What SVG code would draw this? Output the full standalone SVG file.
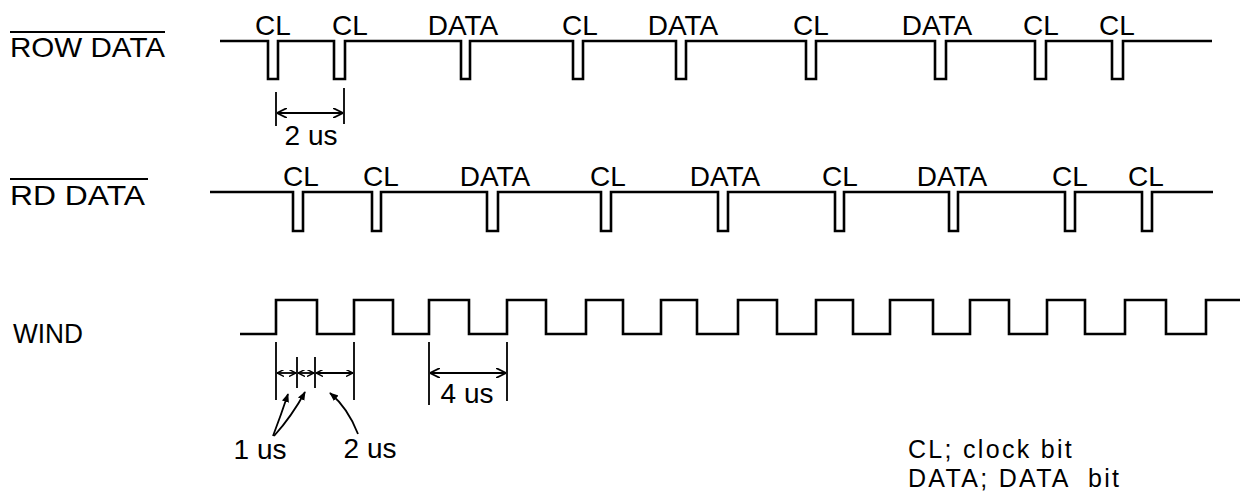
<svg xmlns="http://www.w3.org/2000/svg" width="1243" height="500" viewBox="0 0 1243 500">
<style>
.wave{fill:none;stroke:#000;stroke-width:2.6;stroke-linejoin:miter}
.dim{fill:none;stroke:#000;stroke-width:1.8}
.ext{fill:none;stroke:#000;stroke-width:1.8}
.ov{stroke:#000;stroke-width:1.8}
text{font-family:"Liberation Sans",Arial,sans-serif;fill:#000}
.lbl{font-size:28px;text-anchor:middle}
.sig{font-size:28px}
.leg{font-size:25px;letter-spacing:2.3px}
</style>
<defs>
<marker id="ah" viewBox="0 0 10 10" refX="10" refY="5" markerWidth="10" markerHeight="10" markerUnits="userSpaceOnUse" orient="auto-start-reverse">
<path d="M0,0 L10,5 L0,10" fill="none" stroke="#000" stroke-width="1.8"/>
</marker>
<marker id="ahs" viewBox="0 0 10 10" refX="10" refY="5" markerWidth="7" markerHeight="7" markerUnits="userSpaceOnUse" orient="auto-start-reverse">
<path d="M0,0 L10,5 L0,10" fill="none" stroke="#000" stroke-width="2"/>
</marker>
<marker id="ahf" viewBox="0 0 10 10" refX="9" refY="5" markerWidth="9" markerHeight="9" markerUnits="userSpaceOnUse" orient="auto">
<path d="M0,1 L10,5 L0,9 z" fill="#000"/>
</marker>
</defs>

<g id="row-data">
<line class="ov" x1="10" y1="32" x2="165" y2="32"/>
<text class="sig" x="10" y="57" textLength="155" lengthAdjust="spacingAndGlyphs">ROW DATA</text>
<path class="wave" d="M220 41 H268 V79 H278 V41 H334 V79 H345 V41 H461 V79 H470 V41 H573 V79 H583 V41 H676 V79 H686 V41 H806 V79 H816 V41 H935 V79 H946 V41 H1035 V79 H1046 V41 H1112 V79 H1123 V41 H1212"/>
<text class="lbl" x="273" y="35">CL</text>
<text class="lbl" x="350" y="35">CL</text>
<text class="lbl" x="463" y="35">DATA</text>
<text class="lbl" x="580" y="35">CL</text>
<text class="lbl" x="683" y="35">DATA</text>
<text class="lbl" x="811" y="35">CL</text>
<text class="lbl" x="937" y="35">DATA</text>
<text class="lbl" x="1041" y="35">CL</text>
<text class="lbl" x="1117" y="35">CL</text>
</g>

<g id="rd-data">
<line class="ov" x1="10" y1="179" x2="148" y2="179"/>
<text class="sig" x="10" y="205" textLength="135" lengthAdjust="spacingAndGlyphs">RD DATA</text>
<path class="wave" d="M210 192 H293 V231 H303 V192 H372 V231 H381 V192 H487 V231 H498 V192 H601 V231 H611 V192 H718 V231 H728 V192 H835 V231 H844 V192 H949 V231 H958 V192 H1065 V231 H1075 V192 H1142 V231 H1152 V192 H1213"/>
<text class="lbl" x="301" y="186">CL</text>
<text class="lbl" x="381" y="186">CL</text>
<text class="lbl" x="495" y="186">DATA</text>
<text class="lbl" x="608" y="186">CL</text>
<text class="lbl" x="725" y="186">DATA</text>
<text class="lbl" x="840" y="186">CL</text>
<text class="lbl" x="952" y="186">DATA</text>
<text class="lbl" x="1070" y="186">CL</text>
<text class="lbl" x="1146" y="186">CL</text>
</g>

<g id="wind">
<text class="sig" x="13" y="343" textLength="70" lengthAdjust="spacingAndGlyphs">WIND</text>
<path class="wave" d="M240 334 H276 V300 H317 V334 H354 V300 H393 V334 H429 V300 H469 V334 H507 V300 H546 V334 H586 V300 H623 V334 H661 V300 H697 V334 H738 V300 H777 V334 H816 V300 H853 V334 H890 V300 H933 V334 H970 V300 H1009 V334 H1047 V300 H1085 V334 H1125 V300 H1166 V334 H1206 V300 H1240"/>
</g>

<g id="dimensions">
<line class="ext" x1="276" y1="92" x2="276" y2="126"/>
<line class="ext" x1="344" y1="88" x2="344" y2="124"/>
<line class="dim" x1="277" y1="113" x2="343" y2="113" marker-start="url(#ah)" marker-end="url(#ah)"/>
<text class="lbl" x="311" y="145">2 us</text>

<line class="ext" x1="276" y1="342" x2="276" y2="400"/>
<line class="ext" x1="354" y1="342" x2="354" y2="400"/>
<line class="ext" x1="297" y1="357" x2="297" y2="388"/>
<line class="ext" x1="315" y1="357" x2="315" y2="388"/>
<line class="dim" x1="277" y1="373" x2="296" y2="373" marker-start="url(#ahs)" marker-end="url(#ahs)"/>
<line class="dim" x1="298" y1="373" x2="314" y2="373" marker-start="url(#ahs)" marker-end="url(#ahs)"/>
<line class="dim" x1="316" y1="373" x2="353" y2="373" marker-start="url(#ahs)" marker-end="url(#ahs)"/>
<path class="dim" d="M273 436 Q281 415 288 394" marker-end="url(#ahf)"/>
<path class="dim" d="M274 436 Q292 416 305 392" marker-end="url(#ahf)"/>
<path class="dim" d="M358 434 Q348 408 330 393" marker-end="url(#ahf)"/>
<text class="lbl" x="260" y="459">1 us</text>
<text class="lbl" x="370" y="458">2 us</text>

<line class="ext" x1="429" y1="342" x2="429" y2="405"/>
<line class="ext" x1="507" y1="342" x2="507" y2="401"/>
<line class="dim" x1="430" y1="373" x2="506" y2="373" marker-start="url(#ah)" marker-end="url(#ah)"/>
<text class="lbl" x="467" y="403">4 us</text>
</g>

<g id="legend">
<text class="leg" x="908" y="458">CL; clock bit</text>
<text class="leg" x="908" y="487" xml:space="preserve">DATA; DATA  bit</text>
</g>
</svg>
